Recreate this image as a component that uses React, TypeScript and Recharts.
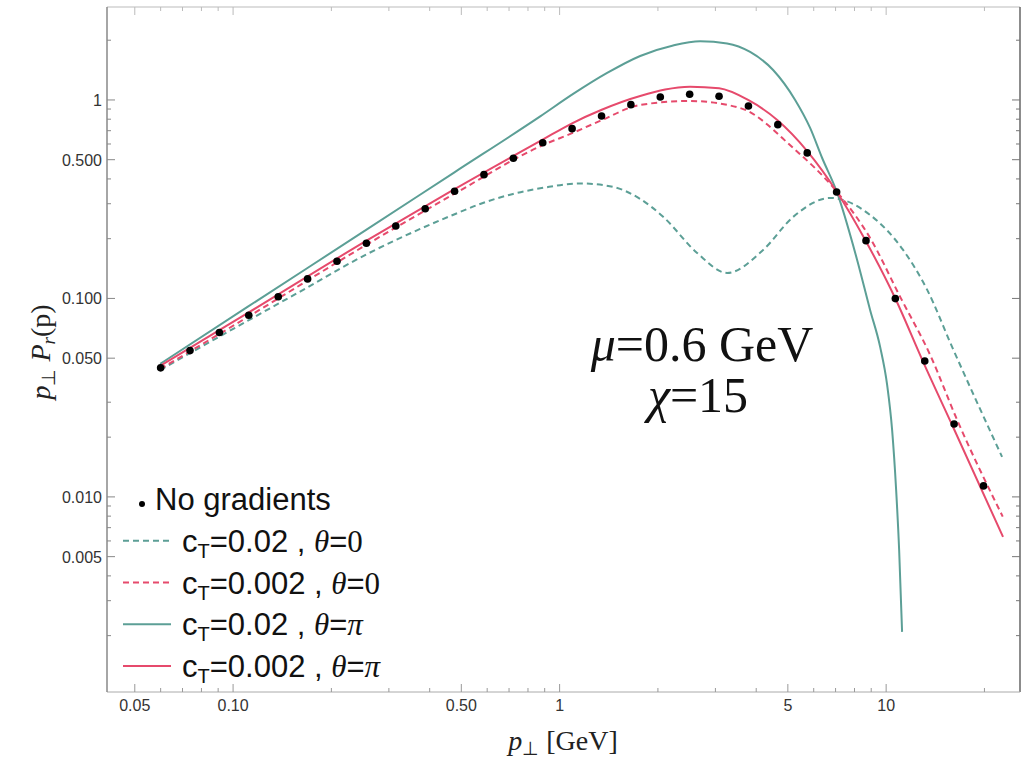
import React from "react";
import { ComposedChart, Line, Scatter, XAxis, YAxis, ReferenceLine } from "recharts";

const TEAL = "#5c9f96";
const RED = "#e64a6c";
const SANS = "'Liberation Sans', Arial, sans-serif";
const SERIF = "'Liberation Serif', 'Times New Roman', serif";

// plot box (page pixels), used for the inward frame ticks
const PLOT_TOP = 7;
const PLOT_RIGHT = 1020;

const X_MIN = 0.0411;
const X_MAX = 25.7;
const Y_MIN = 0.00104;
const Y_MAX = 2.94;

// No gradients (black dots)
const dotX = [0.06, 0.0738, 0.0908, 0.1117, 0.1375, 0.1691, 0.2081, 0.256, 0.315, 0.3876, 0.4768, 0.5866, 0.7217, 0.8879, 1.092, 1.344, 1.653, 2.034, 2.502, 3.078, 3.787, 4.659, 5.732, 7.052, 8.676, 10.67, 13.13, 16.15, 19.87];
const dotY = [0.0447, 0.0546, 0.0673, 0.0823, 0.102, 0.1254, 0.1539, 0.1897, 0.2318, 0.283, 0.3467, 0.4205, 0.5084, 0.609, 0.7168, 0.8306, 0.947, 1.035, 1.068, 1.044, 0.933, 0.751, 0.541, 0.344, 0.1955, 0.0998, 0.0484, 0.0233, 0.01136];

// cT=0.02, theta=0 (teal dashed)
const tealDashX = [0.0598, 0.111, 0.1604, 0.2555, 0.3739, 0.475, 0.5707, 0.72, 0.9028, 1.156, 1.458, 1.765, 2.075, 2.637, 3.258, 4.2, 5.19, 6.74, 8.93, 11.27, 13.36, 15.92, 22.65];
const tealDashY = [0.0436, 0.0773, 0.1083, 0.1664, 0.2239, 0.2649, 0.2992, 0.3361, 0.3623, 0.3796, 0.3645, 0.3171, 0.258, 0.1695, 0.1344, 0.1755, 0.2574, 0.3208, 0.2634, 0.1755, 0.1104, 0.057, 0.0159];

// cT=0.002, theta=0 (red dashed)
const redDashX = [0.0598, 0.111, 0.2555, 0.475, 0.884, 1.092, 1.33, 1.765, 2.51, 3.57, 5.19, 7.06, 8.93, 11.04, 13.64, 16.5, 22.75];
const redDashY = [0.0441, 0.0807, 0.186, 0.336, 0.59, 0.68, 0.784, 0.944, 0.988, 0.911, 0.573, 0.345, 0.2017, 0.1018, 0.0519, 0.0244, 0.00796];

// cT=0.02, theta=pi (teal solid)
const tealSolidX = [0.0598, 0.111, 0.2555, 0.475, 0.872, 1.1, 1.398, 1.765, 2.227, 2.694, 3.258, 3.832, 4.507, 5.264, 5.85, 6.368, 7.06, 8.15, 8.93, 9.585, 10.07, 10.43, 10.73, 10.96, 11.19];
const tealSolidY = [0.0468, 0.0909, 0.2214, 0.4307, 0.826, 1.072, 1.368, 1.666, 1.882, 1.975, 1.926, 1.745, 1.416, 1.0, 0.723, 0.51, 0.345, 0.1563, 0.0875, 0.057, 0.0367, 0.02176, 0.01085, 0.0054, 0.00209];

// cT=0.002, theta=pi (red solid)
const redSolidX = [0.0598, 0.111, 0.2555, 0.475, 0.884, 1.092, 1.34, 1.765, 2.51, 3.08, 3.778, 4.64, 5.73, 7.06, 8.63, 10.66, 12.98, 16.03, 22.8];
const redSolidY = [0.0457, 0.0845, 0.195, 0.354, 0.629, 0.763, 0.89, 1.047, 1.167, 1.145, 1.0, 0.793, 0.553, 0.345, 0.197, 0.1002, 0.0479, 0.0225, 0.00629];

const xMajor = [0.05, 0.1, 0.5, 1, 5, 10];
const xLabels = ["0.05", "0.10", "0.50", "1", "5", "10"];
const xMinor = [0.06, 0.07, 0.08, 0.09, 0.2, 0.3, 0.4, 0.6, 0.7, 0.8, 0.9, 2, 3, 4, 6, 7, 8, 9, 20];

const yMajor = [0.005, 0.01, 0.05, 0.1, 0.5, 1];
const yLabels = ["0.005", "0.010", "0.050", "0.100", "0.500", "1"];
const yMinor = [0.002, 0.003, 0.004, 0.006, 0.007, 0.008, 0.009, 0.02, 0.03, 0.2, 0.3, 0.4, 0.6, 0.7, 0.8, 0.9, 2];

const zip = (xs: number[], ys: number[]) => xs.map((x, i) => ({ x, y: ys[i] }));

const dots = zip(dotX, dotY);
const tealDash = zip(tealDashX, tealDashY);
const redDash = zip(redDashX, redDashY);
const tealSolid = zip(tealSolidX, tealSolidY);
const redSolid = zip(redSolidX, redSolidY);

const xTicks = [...xMajor, ...xMinor].sort((a, b) => a - b);
const yTicks = [...yMajor, ...yMinor].sort((a, b) => a - b);

const XTick = (props: any) => {
  const { x, y, payload } = props;
  const i = xMajor.indexOf(payload.value);
  const len = i >= 0 ? 8 : 4;
  return (
    <g>
      <line x1={x} y1={y} x2={x} y2={y - len} stroke="#999" />
      <line x1={x} y1={PLOT_TOP} x2={x} y2={PLOT_TOP + len} stroke="#bbb" />
      {i >= 0 && (
        <text x={x} y={y + 19} textAnchor="middle" fontFamily={SANS} fontSize={16} fill="#333">
          {xLabels[i]}
        </text>
      )}
    </g>
  );
};

const YTick = (props: any) => {
  const { x, y, payload } = props;
  const i = yMajor.indexOf(payload.value);
  const len = i >= 0 ? 8 : 4;
  return (
    <g>
      <line x1={x} y1={y} x2={x + len} y2={y} stroke="#888" />
      <line x1={PLOT_RIGHT} y1={y} x2={PLOT_RIGHT - len} y2={y} stroke="#777" />
      {i >= 0 && (
        <text x={x - 5} y={y + 6} textAnchor="end" fontFamily={SANS} fontSize={16} fill="#333">
          {yLabels[i]}
        </text>
      )}
    </g>
  );
};

const Dot = (props: any) => <circle cx={props.cx} cy={props.cy} r={3.8} fill="#000" />;

const legendRows = [
  { label: "0.02", theta: "0", color: TEAL, dash: "6 4" },
  { label: "0.002", theta: "0", color: RED, dash: "6 4" },
  { label: "0.02", theta: "π", color: TEAL, dash: undefined },
  { label: "0.002", theta: "π", color: RED, dash: undefined },
];

function Overlay() {
  return (
    <svg width={1030} height={761} style={{ position: "absolute", left: 0, top: 0, pointerEvents: "none" }}>
      {/* x axis title */}
      <text x={563} y={750} textAnchor="middle" fontFamily={SERIF} fontSize={28} fill="#222">
        <tspan fontStyle="italic">p</tspan>
        <tspan fontSize={19} dy={5}>⊥</tspan>
        <tspan dy={-5}> [GeV]</tspan>
      </text>
      {/* y axis title */}
      <text transform="translate(50,352) rotate(-90)" textAnchor="middle" fontFamily={SERIF} fontSize={28} fill="#222">
        <tspan fontStyle="italic">p</tspan>
        <tspan fontSize={19} dy={5}>⊥</tspan>
        <tspan dy={-5}> </tspan>
        <tspan fontStyle="italic">P</tspan>
        <tspan fontStyle="italic" fontSize={19} dy={5}>r</tspan>
        <tspan dy={-5}>(p)</tspan>
      </text>
      {/* annotation */}
      <text x={702} y={361} textAnchor="middle" fontFamily={SERIF} fontSize={50} fill="#111">
        <tspan fontStyle="italic">μ</tspan>=0.6 GeV
      </text>
      <text x={698} y={412} textAnchor="middle" fontFamily={SERIF} fontSize={50} fill="#111">
        <tspan fontStyle="italic">χ</tspan>=15
      </text>
      {/* legend */}
      <circle cx={142} cy={504} r={3} fill="#000" />
      <text x={155} y={510} fontFamily={SANS} fontSize={31} fill="#111">No gradients</text>
      {legendRows.map((r, i) => {
        const base = 551.75 + i * 41.75;
        return (
          <g key={i}>
            <line x1={123} x2={171} y1={base - 11} y2={base - 11} stroke={r.color} strokeWidth={2} strokeDasharray={r.dash} />
            <text x={182} y={base} fontFamily={SANS} fontSize={31} fill="#111">
              c<tspan fontSize={20} dy={6}>T</tspan>
              <tspan dy={-6}>={r.label} , </tspan>
              <tspan fontFamily={SERIF} fontStyle="italic">θ</tspan>=
              <tspan fontFamily={SERIF} fontStyle={r.theta === "π" ? "italic" : "normal"}>{r.theta}</tspan>
            </text>
          </g>
        );
      })}
    </svg>
  );
}

export default function App() {
  return (
    <div style={{ position: "absolute", left: 0, top: 0, width: 1030, height: 761, background: "#fff" }}>
      <ComposedChart width={1030} height={761} margin={{ top: 7, right: 10, left: 47, bottom: 39 }}>
        <XAxis
          dataKey="x"
          type="number"
          scale="log"
          domain={[X_MIN, X_MAX]}
          allowDataOverflow
          ticks={xTicks}
          interval={0}
          tick={<XTick />}
          tickSize={0}
          tickMargin={0}
          height={30}
          axisLine={{ stroke: "#aaa" }}
          tickLine={false}
        />
        <YAxis
          dataKey="y"
          type="number"
          scale="log"
          domain={[Y_MIN, Y_MAX]}
          allowDataOverflow
          ticks={yTicks}
          interval={0}
          tick={<YTick />}
          tickSize={0}
          tickMargin={0}
          width={60}
          axisLine={{ stroke: "#888", strokeWidth: 1.5 }}
          tickLine={false}
        />
        <ReferenceLine y={Y_MAX} stroke="#bbb" />
        <ReferenceLine x={X_MAX} stroke="#666" strokeWidth={1.5} />
        <Line data={tealDash} dataKey="y" type="monotone" stroke={TEAL} strokeWidth={2} strokeDasharray="6 4" dot={false} isAnimationActive={false} />
        <Line data={redDash} dataKey="y" type="monotone" stroke={RED} strokeWidth={2} strokeDasharray="6 4" dot={false} isAnimationActive={false} />
        <Line data={tealSolid} dataKey="y" type="monotone" stroke={TEAL} strokeWidth={2} dot={false} isAnimationActive={false} />
        <Line data={redSolid} dataKey="y" type="monotone" stroke={RED} strokeWidth={2} dot={false} isAnimationActive={false} />
        <Scatter data={dots} dataKey="y" shape={<Dot />} isAnimationActive={false} />
      </ComposedChart>
      <Overlay />
    </div>
  );
}
